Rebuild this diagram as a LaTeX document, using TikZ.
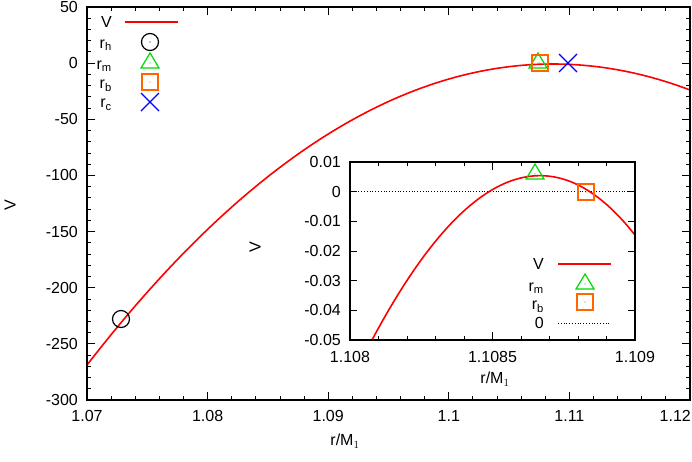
\documentclass[tikz,border=0pt]{standalone}
\usepackage{fontspec}
\setmainfont{Liberation Sans}
\begin{document}
\begin{tikzpicture}[x=1pt,y=-1pt,font=\fontsize{16}{18}\selectfont,
  frame/.style={draw=black,line width=1.3pt},
  curve/.style={draw=red,line width=1.6pt},
  tk/.style={line width=0.9pt},
  mk/.style={line width=1.2pt},
  lab/.style={inner sep=1pt}]
\useasboundingbox (0,0) rectangle (692,461);
\node[draw=none,inner sep=0,minimum width=603pt,minimum height=393pt,anchor=north west] (mainframe) at (87,7) {};
\foreach \i in {0,...,25}{
  \pgfmathsetmacro\xx{87+\i*24.12}
  \draw[tk] (\xx,400) -- (\xx,396); \draw[tk] (\xx,7) -- (\xx,11);}
\foreach \i/\l in {0/1.07,1/1.08,2/1.09,3/1.1,4/1.11}{
  \pgfmathsetmacro\xx{87+\i*120.6}
  \draw[tk] (\xx,400) -- (\xx,392); \draw[tk] (\xx,7) -- (\xx,15);
  \node[lab] (xl\i) at (\xx,416) {\l};}
\draw[tk] (690,400) -- (690,392);
\node[lab,anchor=east] (xl5) at (692,416) {1.12};
\foreach \i in {0,...,35}{
  \pgfmathsetmacro\yy{400-\i*11.2286}
  \draw[tk] (87,\yy) -- (91,\yy); \draw[tk] (690,\yy) -- (686,\yy);}
\foreach \i/\l in {0/-300,1/-250,2/-200,3/-150,4/-100,5/-50,6/0,7/50}{
  \pgfmathsetmacro\yy{400-\i*56.143}
  \draw[tk] (87,\yy) -- (95,\yy); \draw[tk] (690,\yy) -- (682,\yy);
  \node[lab,anchor=east] (yl\i) at (79,\yy) {\l};}
\node[rotate=90] (ylab) at (10,205) {V};
\node (xlab) at (345,441) {r/M$_1$};
\begin{scope}
\clip (87,7) rectangle (690,400);
\draw[curve] plot[domain=-3.866:1.134,samples=120] ({553+120.6*\x},{64+20.16*\x*\x});
\end{scope}
\newcommand\tri[2]{\draw[green!85!black,mk] (#1,#2-8)--(#1+9,#2+7)--(#1-9,#2+7)--cycle; \fill[green!85!black] (#1,#2+2) circle (0.6);}
\newcommand\sqr[2]{\draw[orange!80!red,mk] (#1-8,#2-8) rectangle (#1+8,#2+8); \fill[orange!80!red] (#1,#2) circle (0.6);}
\newcommand\crs[2]{\draw[blue,mk] (#1-9,#2-9)--(#1+9,#2+9) (#1-9,#2+9)--(#1+9,#2-9);}
\node[draw=black,mk,circle,minimum size=17pt,inner sep=0] (rh) at (121,319) {};
\node[lab,anchor=east] (lV) at (113,22) {V};
\coordinate (lVa) at (125,22); \coordinate (lVb) at (178,22);
\draw[curve] (lVa) -- (lVb);
\node[lab,anchor=east] (lh) at (113,45) {r$_\mathrm{h}$};
\node[draw=black,mk,circle,minimum size=17pt,inner sep=0] (mh) at (150,42) {};
\fill (150,42) circle (0.6);
\node[lab,anchor=east] (lm) at (113,66) {r$_\mathrm{m}$};
\node[lab,anchor=east] (lb) at (113,86) {r$_\mathrm{b}$};
\node[lab,anchor=east] (lc) at (113,105) {r$_\mathrm{c}$};
\tri{150}{61}
\sqr{150}{82}
\crs{150}{102}
\tri{538}{61}
\sqr{540}{63}
\crs{568}{63}
\draw[frame] (87,7) rectangle (690,400);
% inset
\fill[white] (350,162) rectangle (635,340);
\begin{scope}
\clip (350,162) rectangle (635,340);
\draw[black,dotted,line width=0.8pt] (350,191.7) -- (635,191.7);
\draw[curve] plot[domain=-5.95:3.34,samples=120] ({540+28.5*\x},{162+(1-(0.54-0.1726*\x*\x-0.00228*\x*\x*\x))*29.7});
\end{scope}
\foreach \i in {0,...,10}{
  \pgfmathsetmacro\xx{350+\i*28.5}
  \draw[tk] (\xx,340) -- (\xx,336); \draw[tk] (\xx,162) -- (\xx,166);}
\foreach \i/\l in {0/1.108,5/1.1085,10/1.109}{
  \pgfmathsetmacro\xx{350+\i*28.5}
  \draw[tk] (\xx,340) -- (\xx,332); \draw[tk] (\xx,162) -- (\xx,170);
  \node[lab] (ixl\i) at (\xx,357) {\l};}
\foreach \i/\l in {0/-0.05,1/-0.04,2/-0.03,3/-0.02,4/-0.01,5/0,6/0.01}{
  \pgfmathsetmacro\yy{340-\i*29.667}
  \draw[tk] (350,\yy) -- (357,\yy); \draw[tk] (635,\yy) -- (628,\yy);
  \node[lab,anchor=east] (iyl\i) at (342,\yy) {\l};}
\node[rotate=90] (iylab) at (255,247) {V};
\node (ixlab) at (495,379) {r/M$_1$};
\tri{535}{172}
\sqr{586}{192}
\node[lab,anchor=east] (iV) at (545,264) {V};
\coordinate (iVa) at (558,264); \coordinate (iVb) at (611,264);
\draw[curve] (iVa) -- (iVb);
\node[lab,anchor=east] (im) at (545,288) {r$_\mathrm{m}$};
\node[lab,anchor=east] (ib) at (545,307) {r$_\mathrm{b}$};
\node[lab,anchor=east] (i0) at (545,323) {0};
\tri{585}{282}
\sqr{585}{302}
\coordinate (i0a) at (558,323); \coordinate (i0b) at (611,323);
\draw[black,dotted,line width=0.8pt] (i0a) -- (i0b);
\draw[frame] (350,162) rectangle (635,340);
\end{tikzpicture}
\end{document}
